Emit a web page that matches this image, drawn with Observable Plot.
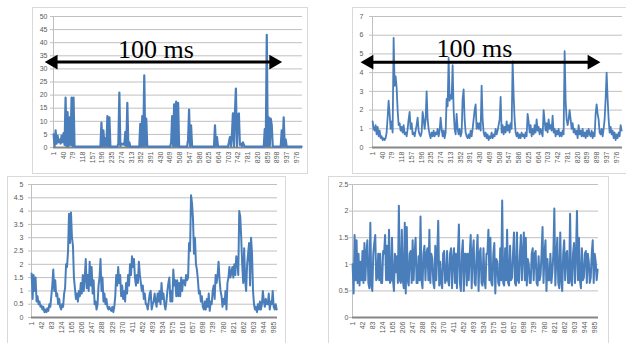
<!DOCTYPE html>
<html><head><meta charset="utf-8">
<script src="https://cdn.jsdelivr.net/npm/d3@7"></script>
<script src="https://cdn.jsdelivr.net/npm/@observablehq/plot@0.6"></script>
<style>
html,body{margin:0;padding:0;background:#fff;}
#wrap{position:relative;width:626px;height:343px;overflow:hidden;background:#fff;}
.panel{position:absolute;box-sizing:border-box;border:1px solid #d9d9d9;}
.chart{position:absolute;}
</style></head><body><div id="wrap"></div>
<script>
// sample spacing along the 1..1000 category axis
const sampleStep = 4;

const xTicksTop = [1,40,79,118,157,196,235,274,313,352,391,430,469,508,547,586,625,664,703,742,781,820,859,898,937,976];
const xTicksBottom = [1,42,83,124,165,206,247,288,329,370,411,452,493,534,575,616,657,698,739,780,821,862,903,944,985];

const yTicksTL = [0,5,10,15,20,25,30,35,40,45,50];
const yTicksTR = [0,1,2,3,4,5,6,7];
const yTicksBL = [0,0.5,1,1.5,2,2.5,3,3.5,4,4.5,5];
const yTicksBR = [0,0.5,1,1.5,2,2.5];

const seriesTL = [
5,0.5,6.5,1.5,4.5,2,3,1.5,4.5,2,
5.5,1,19,0.5,13.5,0.5,11.5,1,19,0.5,
19,0.3,0.3,0.3,0.3,0.3,0.3,0.3,0.3,0.3,
0.3,0.3,0.3,0.3,0.3,0.3,0.3,0.3,0.3,0.3,
0.3,0.3,0.3,0.3,0.3,0.3,0.3,0.3,9.5,0.5,
6.5,0.5,3.5,0.5,12,0.5,11.5,0.3,0.3,0.3,
0.3,0.3,0.3,0.3,0.3,1.5,21,0.5,1.5,1.2,
1.5,1,6,0.5,17,0.5,2,0.3,0.3,0.3,
0.3,0.3,0.3,0.3,0.3,0.3,0.3,9,0.5,12,
0.5,27.5,0.5,11,0.5,0.3,0.3,0.3,0.3,0.3,
0.3,0.3,0.3,0.3,0.3,0.3,0.3,0.3,0.3,0.3,
0.3,0.3,0.3,0.3,0.3,0.3,0.3,0.3,2,12,
0.5,16.5,0.5,17.5,0.5,17,0.3,0.3,0.3,0.3,
0.3,0.3,0.3,0.3,0.3,3,14.5,0.5,8.5,0.5,
0.3,0.3,0.3,0.3,0.3,0.3,0.3,0.3,0.3,0.3,
0.3,0.3,0.3,0.3,0.3,0.3,0.3,0.3,0.3,0.3,
0.3,0.3,8.5,0.5,4,0.5,0.3,0.3,0.3,0.3,
0.3,0.3,0.3,0.3,0.3,0.3,2,4,0.5,4.5,
13,0.5,13,22.5,0.5,12.5,13,1,1.5,0.5,
2,1,0.3,0.3,0.3,0.3,0.3,0.3,0.3,0.3,
0.3,0.3,0.3,0.3,0.3,0.3,0.3,0.3,0.3,0.3,
0.3,0.3,7,0.5,43,0.5,11.5,0.5,11,8.5,
0.3,0.3,0.3,0.3,0.3,0.3,0.3,0.3,0.3,6.5,
0.5,11.5,0.5,3,0.3,0.3,0.3,0.3,0.3,0.3,
0.3,0.3,0.3,0.3,0.3,0.3,0.3,0.3,0.3,0.3
];

const seriesTR = [
1.4,1.0,0.9,1.2,0.7,1.1,0.6,0.9,0.5,0.6,
0.4,0.5,0.4,0.5,0.8,1.6,2.5,1.8,1.0,1.4,
0.8,5.85,3.3,3.8,3.2,2.0,1.2,1.3,0.9,1.1,
0.8,1.2,0.7,0.8,0.6,1.0,1.5,1.9,1.0,1.3,
0.7,0.8,0.6,0.9,1.2,1.6,0.9,0.7,0.6,0.8,
1.9,1.5,1.0,1.5,3.0,1.5,1.0,0.7,0.5,0.8,
0.6,0.9,0.6,0.8,0.7,1.0,0.6,0.9,1.6,1.0,
0.6,0.9,0.5,0.8,2.6,2.2,4.8,2.5,2.8,2.6,
4.4,2.0,1.0,0.7,1.8,1.0,0.7,1.0,0.6,0.8,
2.6,3.1,1.5,0.8,0.6,0.5,0.7,0.5,0.9,0.6,
1.0,1.5,2.0,2.3,1.0,1.3,1.0,1.3,0.9,3.3,
1.5,0.8,0.6,0.8,0.5,0.7,0.4,0.6,0.5,0.8,
0.5,0.7,0.6,1.0,0.7,0.9,1.2,1.5,2.7,0.8,
1.2,0.7,1.1,0.8,1.4,0.9,1.2,0.8,1.3,1.0,
4.6,2.8,1.5,0.8,0.6,0.8,0.5,0.7,0.5,0.8,
0.6,0.7,0.5,0.8,0.6,1.8,1.4,0.8,1.2,0.6,
1.0,0.7,1.2,0.8,1.5,0.9,1.1,0.7,1.0,0.8,
0.6,2.0,1.4,0.9,1.3,0.8,1.5,1.0,1.2,0.9,
1.7,0.8,1.0,0.6,0.9,0.7,1.0,0.6,0.8,0.6,
0.9,0.7,5.15,2.5,1.5,1.2,1.5,2.0,1.5,1.0,
1.3,0.8,1.0,0.7,0.9,0.5,1.2,0.7,0.9,0.6,
1.0,0.6,0.8,0.5,0.9,0.6,1.0,0.7,0.6,0.9,
0.5,0.8,0.6,1.8,2.3,1.8,1.5,0.8,0.7,1.0,
0.6,1.0,1.5,2.6,4.0,2.6,1.5,0.8,1.1,0.7,
0.9,0.5,0.8,0.4,0.7,0.5,0.8,0.6,1.2,0.9
];

const seriesBL = [
1.65,0.7,1.6,1.0,1.5,0.6,0.8,0.5,0.6,0.4,
0.45,0.3,0.4,0.2,0.3,0.2,0.35,0.25,0.5,0.4,
0.8,1.2,1.8,1.0,1.4,0.8,0.9,0.5,0.7,0.4,
0.3,0.5,0.4,0.9,1.1,2.0,1.9,2.5,3.9,2.8,
3.95,3.0,2.7,1.5,1.1,0.7,0.9,0.6,1.0,0.8,
1.3,0.9,1.6,1.0,1.5,2.2,1.1,1.6,1.0,2.1,
1.2,1.9,0.9,1.4,0.5,0.6,0.3,0.5,1.2,1.5,
2.2,1.0,1.5,0.6,0.9,0.5,0.7,0.4,0.3,0.4,
0.3,0.25,0.4,0.2,0.4,0.8,1.6,1.2,1.9,1.3,
1.6,0.8,1.2,0.7,1.0,0.6,1.3,0.9,1.6,1.2,
2.0,1.6,2.3,1.9,2.2,1.5,1.2,1.6,1.3,2.1,
1.6,1.3,1.0,1.2,0.7,0.9,0.5,0.5,0.3,0.6,
0.9,1.0,0.3,0.5,0.6,0.9,0.6,0.4,0.9,0.6,
1.0,0.5,1.3,0.7,0.9,0.5,0.3,0.6,1.0,1.3,
1.5,0.6,1.0,0.6,1.8,1.2,1.4,0.8,1.4,0.8,
1.3,0.8,1.5,1.0,1.4,1.4,1.2,1.6,1.4,1.5,
2.8,2.5,4.6,4.3,3.7,2.4,3.0,2.0,1.8,1.4,
0.9,1.0,0.6,0.8,0.4,0.3,0.6,0.3,0.7,0.4,
0.9,0.25,0.6,0.5,1.0,1.2,0.7,1.6,1.3,1.6,
2.1,1.4,1.0,0.8,0.4,0.7,0.5,1.0,0.3,1.3,
1.5,1.9,1.5,1.7,1.9,1.5,2.0,1.6,2.3,2.2,
1.6,4.0,3.8,3.0,2.0,1.3,2.6,1.4,1.0,2.0,
2.4,2.8,1.2,3.0,2.4,1.0,0.5,0.3,0.4,0.2,
0.5,0.3,0.6,0.3,0.5,1.0,0.6,0.4,0.7,0.5,
0.5,0.9,0.3,0.6,0.5,1.0,0.4,0.3,0.5,0.3
];

const seriesBR = [
1.0,0.45,1.55,0.7,1.45,0.65,1.2,0.6,1.05,0.7,
1.25,0.65,1.4,0.7,1.2,1.45,0.65,0.55,1.78,0.6,
0.5,1.2,1.4,1.55,0.7,0.75,1.2,0.7,1.2,0.65,
0.65,1.25,1.2,1.55,0.7,1.35,0.7,1.65,0.65,0.7,
1.5,0.7,0.5,1.2,0.85,1.15,0.65,2.1,0.7,0.65,
1.65,0.7,0.55,1.78,0.45,1.7,0.7,0.6,1.2,1.25,
0.65,1.45,0.7,1.2,1.5,0.65,0.65,1.15,0.7,1.9,
0.7,0.55,1.2,1.35,0.7,1.2,1.3,0.7,1.65,0.65,
1.2,1.1,0.65,0.55,1.35,0.7,1.2,1.82,0.6,1.05,
0.65,0.55,1.2,1.25,0.65,0.7,1.25,0.7,0.6,1.2,
1.3,0.55,1.1,1.3,0.65,1.2,0.55,1.2,1.75,0.65,
0.5,1.2,1.45,0.5,1.2,1.2,0.6,1.2,0.7,1.2,
1.55,0.55,1.2,1.45,0.65,0.6,1.2,1.55,0.5,1.2,
1.3,0.65,0.6,1.3,0.7,0.55,1.2,1.2,1.65,0.7,
1.5,0.65,0.6,1.2,1.4,0.45,1.1,1.05,0.65,0.6,
1.3,0.7,2.2,0.65,0.6,1.3,0.7,1.65,0.65,0.6,
1.35,0.7,0.75,1.2,1.6,0.65,0.6,1.6,0.7,0.65,
1.2,1.55,0.7,1.2,1.6,0.7,1.5,0.6,1.1,1.0,
0.65,0.65,1.2,1.3,0.7,1.2,1.25,0.65,0.6,1.15,
0.7,0.8,1.2,1.7,0.65,1.2,1.45,0.5,1.1,0.7,
0.7,1.2,0.65,0.85,1.2,2.05,0.6,1.1,1.5,0.65,
0.55,1.6,0.7,0.5,1.2,1.45,0.7,1.2,1.25,0.65,
0.65,1.95,0.7,0.6,1.2,1.4,0.65,1.2,2.0,0.7,
1.5,0.7,0.55,1.3,0.7,0.75,1.2,1.25,0.65,1.2,
1.05,0.65,0.75,1.2,1.45,0.65,1.2,1.05,0.7,0.9
];

// "100 ms" annotations, in each chart's data units
const arrowTL = [{from: -35, to: 919, at: 32.6}];
const labelTL = [{x: 412, y: 34.0, text: "100 ms"}];
const arrowTR = [{from: -47.5, to: 912.5, at: 4.56}];
const labelTR = [{x: 408.5, y: 4.83, text: "100 ms"}];

const wrap = document.getElementById("wrap");
const lineColor = "#4a7ebb";
const gridColor = "#c0c0c0";
const textColor = "#595959";

function annotationMarks(arrows, labels) {
  return [
    Plot.arrow(arrows, {x1: "from", x2: "to", y1: "at", y2: "at", stroke: "black", strokeWidth: 3,
      headLength: 0, insetStart: 9, insetEnd: 9, strokeLinecap: "butt"}),
    Plot.dot(arrows, {x: "from", y: "at", symbol: "triangle", r: 5.5, rotate: -90, dx: 8.6, fill: "black", stroke: "none"}),
    Plot.dot(arrows, {x: "to", y: "at", symbol: "triangle", r: 5.5, rotate: 90, dx: -8.6, fill: "black", stroke: "none"}),
    Plot.text(labels, {x: "x", y: "y", text: "text", fontFamily: "Liberation Serif", fontSize: 26,
      fill: "black", lineAnchor: "bottom", textAnchor: "middle"})
  ];
}

function panel(cfg) {
  const b = document.createElement("div");
  b.className = "panel";
  Object.assign(b.style, {left: cfg.border[0] + "px", top: cfg.border[1] + "px",
    width: cfg.border[2] + "px", height: cfg.border[3] + "px"});
  wrap.appendChild(b);
  const yMax = cfg.yTicks[cfg.yTicks.length - 1];
  const chart = Plot.plot({
    width: cfg.w, height: cfg.h,
    marginLeft: cfg.m[0], marginRight: cfg.m[1], marginTop: cfg.m[2], marginBottom: cfg.m[3],
    x: {domain: [0.5, 1000.5]},
    y: {domain: [0, yMax]},
    style: {fontFamily: "Liberation Sans, Arial, sans-serif", background: "transparent", overflow: "visible"},
    marks: [
      Plot.gridY({ticks: cfg.yTicks, stroke: gridColor, strokeOpacity: 1}),
      Plot.ruleX([0.5], {stroke: gridColor}),
      Plot.axisY({ticks: cfg.yTicks, tickSize: 3, tickPadding: cfg.yPad, stroke: gridColor, fill: textColor,
        fontSize: 7, tickFormat: d => String(d), label: null}),
      Plot.axisX({ticks: cfg.xTicks, tickSize: 0, tickRotate: -90, tickPadding: 4, fill: textColor,
        fontSize: 7, tickFormat: d => String(d), label: null}),
      Plot.ruleY([0], {stroke: "#868686", strokeWidth: 2}),
      Plot.line(cfg.values, {x: (d, i) => 1 + i * sampleStep, y: d => d, stroke: lineColor, strokeWidth: cfg.sw}),
      ...(cfg.notes || [])
    ]
  });
  chart.classList.add("chart");
  chart.style.left = cfg.pos[0] + "px";
  chart.style.top = cfg.pos[1] + "px";
  chart.style.position = "absolute";
  wrap.appendChild(chart);
}

panel({values: seriesTL, yTicks: yTicksTL, xTicks: xTicksTop, border: [32, 7, 276, 167],
  pos: [32, 7], w: 275, h: 166, m: [21, 5, 9, 26], yPad: 3, sw: 2.2, notes: annotationMarks(arrowTL, labelTL)});
panel({values: seriesTR, yTicks: yTicksTR, xTicks: xTicksTop, border: [352, 7, 300, 167],
  pos: [352, 7], w: 274, h: 166, m: [20, 4, 9, 26], yPad: 6, sw: 1.8, notes: annotationMarks(arrowTR, labelTR)});
panel({values: seriesBL, yTicks: yTicksBL, xTicks: xTicksBottom, border: [7, 176, 279, 200],
  pos: [7, 176], w: 278, h: 167, m: [24, 8, 8, 26], yPad: 5, sw: 2});
panel({values: seriesBR, yTicks: yTicksBR, xTicks: xTicksBottom, border: [328, 176, 281, 200],
  pos: [328, 176], w: 280, h: 167, m: [24, 10, 8, 26], yPad: 1, sw: 2});
</script>
</body></html>
